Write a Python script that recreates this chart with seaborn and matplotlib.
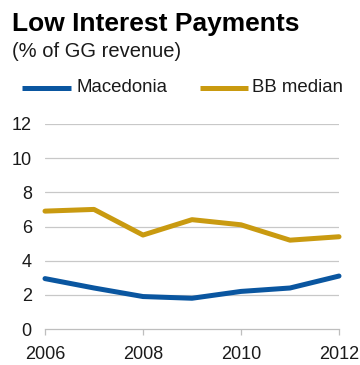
import matplotlib
matplotlib.use("Agg")
import matplotlib.pyplot as plt
import seaborn as sns
import pandas as pd

years = [2006, 2007, 2008, 2009, 2010, 2011, 2012]
macedonia = [2.95, 2.4, 1.9, 1.8, 2.2, 2.4, 3.1]
bb_median = [6.9, 7.0, 5.5, 6.4, 6.1, 5.2, 5.4]
series_names = ["Macedonia", "BB median"]
colors = ["#0A56A0", "#C99A10"]
yticks = [0, 2, 4, 6, 8, 10, 12]
xticks = [2006, 2008, 2010, 2012]

df = pd.DataFrame({
    "year": years * 2,
    "value": macedonia + bb_median,
    "series": [series_names[0]] * len(years) + [series_names[1]] * len(years),
})

sns.set_theme(style="white")
plt.rcParams["font.family"] = ["Liberation Sans", "DejaVu Sans"]

W, H = 360, 365
fig = plt.figure(figsize=(3.6, 3.65), dpi=100)
ax = fig.add_axes([45 / W, 1 - 329 / H, 294 / W, 205 / H])

sns.lineplot(data=df, x="year", y="value", hue="series", palette=colors,
             linewidth=3.6, ax=ax, legend=False)
for ln in ax.get_lines():
    ln.set_clip_on(False)
    ln.set_solid_joinstyle("round")

ax.set_xlim(2006, 2012)
ax.set_ylim(0, 12)
ax.set_yticks(yticks)
ax.set_xticks(xticks)
ax.set_xlabel("")
ax.set_ylabel("")
for y in yticks[1:]:
    ax.axhline(y, color="#C8C8C8", linewidth=0.9, zorder=0)
for s in ["top", "right", "left"]:
    ax.spines[s].set_visible(False)
ax.spines["bottom"].set_color("#BEBEBE")
ax.spines["bottom"].set_linewidth(0.9)
ax.tick_params(axis="y", length=0, pad=9.5, labelsize=13, colors="#1a1a1a")
ax.tick_params(axis="x", length=4, width=0.9, color="#BEBEBE", direction="out",
               pad=8, labelsize=13, labelcolor="#1a1a1a", bottom=True)

fig.text(12 / W, 1 - 31 / H, "Low Interest Payments", fontsize=19,
         fontweight="bold", color="#000000", va="baseline")
fig.text(12 / W, 1 - 57 / H, "(% of GG revenue)", fontsize=14.5, color="#1a1a1a",
         va="baseline")

# legend
ly = 1 - 88 / H
for (x0, x1, tx), name, c in zip([(22, 71, 76), (200, 248, 252)], series_names, colors):
    fig.add_artist(plt.Line2D([x0 / W, x1 / W], [ly, ly], color=c, linewidth=3.6,
                              transform=fig.transFigure, solid_capstyle="butt"))
    fig.text(tx / W, ly, name, fontsize=13.4, color="#1a1a1a", va="center")

fig.savefig("out.png", dpi=100)
